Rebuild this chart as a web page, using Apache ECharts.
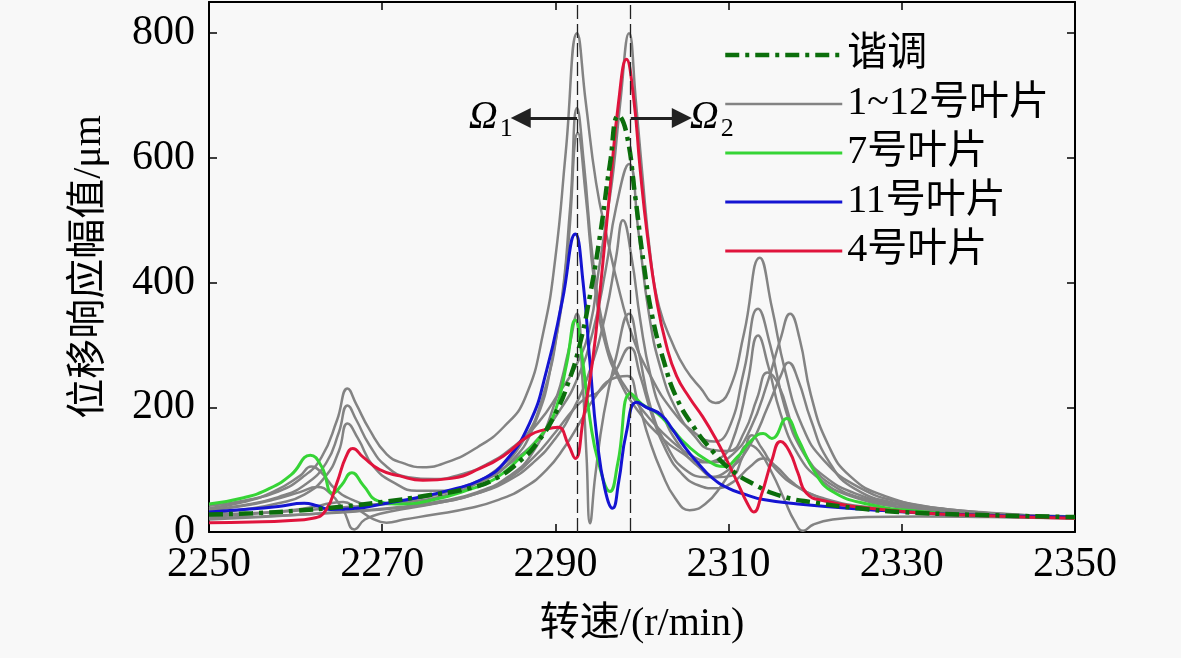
<!DOCTYPE html>
<html>
<head>
<meta charset="utf-8">
<title>叶片位移响应幅值</title>
<script src="https://cdn.jsdelivr.net/npm/echarts@6/dist/echarts.min.js"></script>
<style>
  html, body { margin: 0; padding: 0; background: #f8f8f8; }
  #chart { width: 1181px; height: 658px; }
</style>
</head>
<body>
<div id="chart"></div>
<script>
// 谐调系统响应 [转速, 幅值]
var tuned = [[2250,28],[2255,30],[2260,34],[2265,40],[2270,48],[2275,58],[2280,70],[2283,85],[2286,115],[2288,145],[2290,190],
  [2291.5,240],[2292.8,300],[2294,380],[2295.2,480],[2296.3,590],[2297.3,668],[2298.2,640],[2299.2,540],[2300.2,430],
  [2301.2,345],[2302.5,275],[2304,215],[2306,168],[2308,132],[2310,103],[2313,76],[2316,58],[2320,47],[2325,38],
  [2330,32],[2340,27],[2350,24]];

// 7号叶片
var blade7 = [[2250,45],[2254,55],[2257,70],[2259.5,92],[2261.7,123],[2263,105],[2264.3,62],[2265.3,75],[2266.5,95],
  [2267.8,75],[2269.5,50],[2272,45],[2276,52],[2280,68],[2283,85],[2286,120],[2288.2,152],[2290,195],[2291.3,270],
  [2292.3,340],[2293,290],[2294,180],[2295,110],[2296.3,65],[2297.2,110],[2298.7,222],[2300,205],[2301.8,190],
  [2303.5,165],[2305,142],[2307.5,115],[2309.5,105],[2311,120],[2312.5,145],[2314,158],[2315,150],[2316.7,182],
  [2318,150],[2320,95],[2322,65],[2326,45],[2332,33],[2340,27],[2350,24]];

// 11号叶片
var blade11 = [[2250,32],[2254,36],[2258,41],[2261,46],[2262.5,42],[2264,36],[2267,38],[2270,45],[2274,55],[2278,68],
  [2281.3,83],[2284,110],[2287,174],[2289,260],[2290.8,371],[2292.3,478],[2293.2,400],[2294,270],[2294.8,150],
  [2295.7,70],[2296.6,38],[2297.3,80],[2298.2,160],[2299.4,208],[2300.5,200],[2302.2,188],[2303.5,165],[2305,135],
  [2306.5,110],[2308,88],[2310,70],[2312,60],[2314,52],[2318,45],[2325,37],[2335,29],[2350,24]];

// 4号叶片
var blade4 = [[2250,15],[2255,16],[2259,18],[2262,22],[2263.5,35],[2264.8,80],[2265.8,120],[2266.6,134],[2267.8,120],
  [2269.7,100],[2272,90],[2274.7,83],[2278,86],[2281.3,102],[2284,122],[2287,155],[2289,165],[2290.3,168],
  [2291.5,140],[2292.3,118],[2293.2,180],[2294.3,275],[2295.2,392],[2296.3,550],[2297.3,690],[2298.2,758],
  [2299,700],[2299.8,580],[2300.6,478],[2301.7,371],[2302.8,300],[2304,250],[2305.5,215],[2307,185],[2308.5,150],
  [2309.8,115],[2311,80],[2312.2,45],[2312.9,32],[2313.8,60],[2315,115],[2316,145],[2317,130],[2318,95],[2319,62],
  [2321,50],[2325,40],[2332,31],[2340,26],[2350,22]];

// 其余叶片（灰色）
var gray1 = [[2250,42],[2254,50],[2258,65],[2261,90],[2263,120],[2264.8,180],[2266,230],[2267,205],[2268.5,165],
  [2270.5,125],[2272.5,110],[2274.7,104],[2277.5,112],[2281,136],[2284,168],[2286.5,215],[2288.6,320],[2290,440],
  [2291.2,610],[2292.5,800],[2293.5,690],[2294.7,560],[2296,470],[2297.5,380],[2299,310],[2301,250],[2303.5,195],
  [2306,160],[2308.3,145],[2310,165],[2311.8,260],[2313.4,358],[2314.8,300],[2316.5,200],[2318.5,130],[2321,90],
  [2325,60],[2330,43],[2340,29],[2350,24]];
var gray2 = [[2250,36],[2254,43],[2258,56],[2261,75],[2263.5,110],[2265,160],[2266,203],[2267,180],[2268.5,140],
  [2270.5,105],[2273,88],[2276,85],[2279,92],[2282,108],[2285,135],[2288,175],[2290.5,225],[2292.5,270],[2294,330],
  [2295,420],[2296.1,520],[2296.7,580],[2297.5,690],[2298.5,800],[2299.3,690],[2300,580],[2301,440],[2302,360],
  [2303.6,300],[2305,262],[2306.7,232],[2308.5,207],[2310,225],[2311.8,320],[2313.6,440],[2315,360],[2316.5,260],
  [2318.5,170],[2321,115],[2325,72],[2330,48],[2340,31],[2350,25]];
var gray3 = [[2250,30],[2254,36],[2258,46],[2261,60],[2263.5,90],[2265,130],[2266,174],[2267.2,150],[2269,105],
  [2271.5,78],[2274,66],[2277,66],[2280,76],[2283,98],[2286,140],[2288.5,215],[2290.5,350],[2291.7,520],[2292.5,680],
  [2293.3,590],[2294.3,440],[2295.5,330],[2297,260],[2299,215],[2301,180],[2303.5,145],[2306,120],[2308.3,112],
  [2310.5,125],[2312.5,165],[2314.5,240],[2316,310],[2317.1,350],[2318.2,310],[2319.5,220],[2321.5,140],[2324,90],
  [2328,58],[2335,37],[2350,24]];
var gray4 = [[2250,38],[2254,48],[2257.5,65],[2260.5,90],[2261.8,105],[2263,95],[2264.5,70],[2266.5,52],[2269,44],
  [2273,48],[2277,58],[2281,78],[2284.5,108],[2287.5,170],[2289.8,290],[2291.4,450],[2292.6,640],[2293.5,540],
  [2294.5,400],[2295.8,300],[2297.5,240],[2299.5,195],[2302,155],[2304.5,128],[2307,112],[2309,118],[2310.8,160],
  [2312.2,240],[2313.4,315],[2314.6,265],[2316,190],[2318,125],[2320.5,85],[2324,58],[2330,40],[2340,28],[2350,23]];
var gray5 = [[2250,28],[2256,31],[2261,35],[2265,39],[2270,45],[2275,56],[2279,70],[2282.5,90],[2285.5,118],[2288,150],
  [2290.5,195],[2292.5,245],[2294.3,320],[2295.8,420],[2297,520],[2298.5,590],[2299.6,480],[2300.8,350],[2302.2,260],
  [2304,195],[2306,155],[2308,132],[2310,130],[2311.8,160],[2313.3,215],[2314.5,256],[2315.8,235],[2317.5,165],
  [2319.5,110],[2322,75],[2326,52],[2332,36],[2350,22]];
var gray6 = [[2250,22],[2256,25],[2262,29],[2267,33],[2272,39],[2277,48],[2281,62],[2284.5,82],[2287.5,112],[2290,150],
  [2292,195],[2294,260],[2295.8,350],[2297,440],[2297.8,500],[2298.8,440],[2299.8,340],[2301,250],[2302.5,185],
  [2304.5,135],[2306.5,105],[2308.5,88],[2310.3,90],[2311.6,120],[2312.7,155],[2313.8,135],[2315.5,100],[2318,72],
  [2321,54],[2326,40],[2335,30],[2350,22]];
var gray7 = [[2250,20],[2256,24],[2262,29],[2267,34],[2272,40],[2277,50],[2281,64],[2284.5,88],[2287.5,130],[2290,210],
  [2291.5,290],[2292.5,350],[2293.1,250],[2293.6,120],[2294,14],[2294.6,90],[2295.6,190],[2297,280],[2298.5,350],
  [2299.6,290],[2301,200],[2303,135],[2305,100],[2307.5,88],[2310,100],[2312.5,140],[2314.5,200],[2316,250],
  [2316.9,272],[2318,245],[2319.5,180],[2321.5,115],[2324.5,70],[2330,45],[2340,29],[2350,23]];
var gray8 = [[2250,35],[2254,42],[2257.5,52],[2260.5,64],[2262.5,72],[2264,62],[2265.5,35],[2266.8,4],[2268,20],
  [2270,30],[2273,38],[2277,48],[2281,62],[2284.5,85],[2287.5,120],[2290,160],[2292,195],[2293.5,215],[2295,225],
  [2296.8,255],[2298.6,296],[2299.8,250],[2301.2,185],[2302.8,130],[2304.5,95],[2306.5,75],[2308.5,70],[2310.5,80],
  [2312.5,105],[2314,118],[2315.5,105],[2317.5,78],[2320,58],[2324,42],[2330,32],[2340,25],[2350,22]];
var gray9 = [[2250,25],[2255,29],[2259,34],[2262,40],[2264,46],[2265.5,48],[2267,38],[2268.8,22],[2270.5,15],
  [2272.5,20],[2276,28],[2280,38],[2283.5,52],[2286.5,72],[2289,100],[2291,135],[2292.8,175],[2294.5,215],
  [2296.5,245],[2298.3,250],[2299.5,210],[2300.8,150],[2302.3,95],[2303.8,55],[2305.5,35],[2307.3,45],[2309.2,75],
  [2311,115],[2312.3,140],[2313.5,130],[2315,95],[2316.5,50],[2317.6,18],[2318.6,2],[2319.8,12],[2322,20],
  [2326,24],[2332,25],[2340,24],[2350,22]];
var grayBlades = [gray1, gray2, gray3, gray4, gray5, gray6, gray7, gray8, gray9];

// 两阶共振转速 Ω1 / Ω2
var omegaSpeeds = [2292.5, 2298.7];
var arrowLevel = 664;
var arrowTips = [2286.0, 2304.6];

var legendNames = ['谐调', '1~12号叶片', '7号叶片', '11号叶片', '4号叶片'];

var serifFont = '"Liberation Serif", "Times New Roman", "Noto Sans CJK SC", serif';

var chart = echarts.init(document.getElementById('chart'));

function curve(name, data, color, width, type, z) {
  return {
    name: name,
    type: 'line',
    data: data,
    smooth: 0.5,
    symbol: 'none',
    lineStyle: { color: color, width: width, type: type || 'solid' },
    itemStyle: { color: color },
    z: z
  };
}

var series = grayBlades.map(function (d) {
  return curve('1~12号叶片', d, '#838383', 2.5, null, 2);
});

// 竖直虚线
series[0].markLine = {
  silent: true,
  symbol: ['none', 'none'],
  label: { show: false },
  lineStyle: { color: '#222', width: 1.3, type: [14, 5] },
  data: omegaSpeeds.map(function (v) { return { xAxis: v }; })
};

// 箭头与 Ω 标注
series[1].markLine = {
  silent: true,
  symbol: ['none', 'triangle'],
  symbolSize: [20, 20],
  lineStyle: { color: '#222', width: 2.8, type: 'solid' },
  label: {
    show: true,
    position: 'end',
    distance: 8,
    formatter: function (p) { return '{o|\u03A9}{s|' + p.name + '}'; },
    rich: {
      o: { fontFamily: serifFont, fontStyle: 'italic', fontSize: 40, color: '#000' },
      s: { fontFamily: serifFont, fontSize: 26, color: '#000', padding: [22, 0, 0, 2] }
    }
  },
  data: [
    [{ name: '1', coord: [omegaSpeeds[0], arrowLevel] }, { coord: [arrowTips[0], arrowLevel] }],
    [{ name: '2', coord: [omegaSpeeds[1], arrowLevel] }, { coord: [arrowTips[1], arrowLevel] }]
  ]
};

series.push(curve('7号叶片', blade7, '#36d436', 3, null, 3));
series.push(curve('11号叶片', blade11, '#1414d2', 3, null, 3));
series.push(curve('4号叶片', blade4, '#e0143c', 3, null, 3));
series.push(curve('谐调', tuned, '#0b6e0b', 4.5, [14, 6, 4, 6], 4));

var axisLine = { show: true, onZero: false, lineStyle: { color: '#000', width: 2 } };
var axisTick = { show: true, inside: true, length: 8, lineStyle: { color: '#000', width: 1.5 } };

var option = {
  backgroundColor: '#f8f8f8',
  animation: false,
  grid: { left: 209, right: 106, top: 2, bottom: 126, containLabel: false },
  legend: {
    orient: 'vertical',
    left: 718,
    top: 30,
    itemWidth: 117,
    itemHeight: 14,
    itemGap: 9,
    selectedMode: false,
    itemStyle: { opacity: 0 },
    lineStyle: { width: 'inherit' },
    textStyle: { fontFamily: serifFont, fontSize: 40, color: '#000' },
    data: legendNames
  },
  xAxis: [{
    type: 'value', min: 2250, max: 2350, interval: 20,
    axisLine: axisLine, axisTick: axisTick, splitLine: { show: false },
    axisLabel: {
      fontFamily: serifFont, fontSize: 42, color: '#000', margin: 12,
      formatter: function (v) { return String(v); }
    },
    name: '转速/(r/min)', nameLocation: 'middle', nameGap: 72,
    nameTextStyle: { fontFamily: serifFont, fontSize: 40, color: '#000' }
  }, {
    type: 'value', position: 'top', min: 2250, max: 2350, interval: 20,
    axisLine: axisLine, axisTick: axisTick, splitLine: { show: false }, axisLabel: { show: false }
  }],
  yAxis: [{
    type: 'value', min: 0, max: 850, interval: 200,
    axisLine: axisLine, axisTick: axisTick, splitLine: { show: false },
    axisLabel: {
      fontFamily: serifFont, fontSize: 42, color: '#000', margin: 14,
      formatter: function (v) { return v > 800 ? '' : String(v); }
    },
    name: '位移响应幅值/μm', nameLocation: 'middle', nameGap: 100, nameRotate: 90,
    nameTextStyle: { fontFamily: serifFont, fontSize: 40, color: '#000' }
  }, {
    type: 'value', position: 'right', min: 0, max: 850, interval: 200,
    axisLine: axisLine, axisTick: axisTick, splitLine: { show: false }, axisLabel: { show: false }
  }],
  series: series
};

chart.setOption(option);
</script>
</body>
</html>
